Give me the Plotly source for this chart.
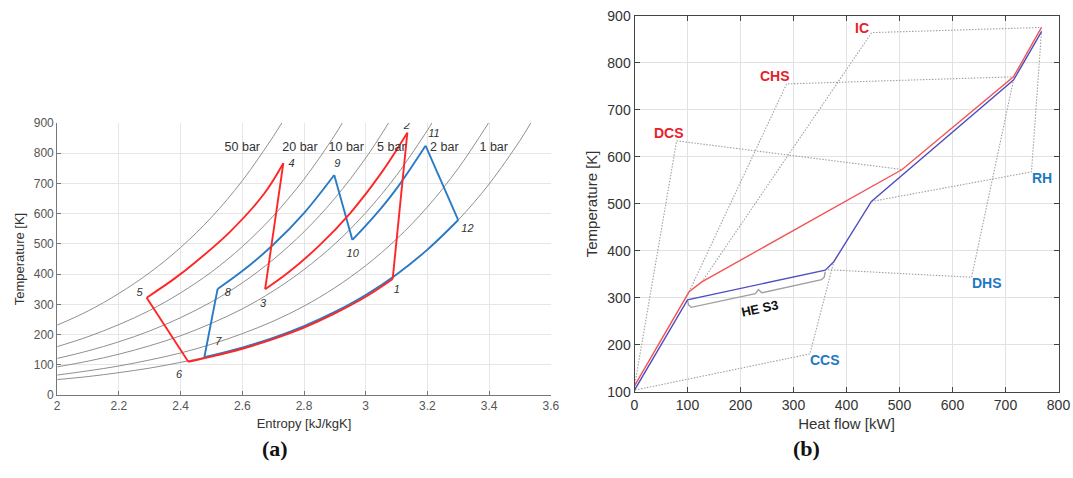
import plotly.graph_objects as go

# ---------------- (a) T-s diagram data ----------------
iso_labels = ["50 bar", "20 bar", "10 bar", "5 bar", "2 bar", "1 bar"]
iso_label_s = [2.60, 2.787, 2.937, 3.083, 3.255, 3.415]
iso_label_T = [818, 818, 818, 818, 818, 818]

iso50_s = [2.0, 2.1, 2.2, 2.3, 2.4, 2.5, 2.6, 2.7, 2.728]
iso50_T = [231, 278, 336, 405, 488, 588, 709, 855, 900]
iso20_s = [2.0, 2.1, 2.2, 2.3, 2.4, 2.5, 2.6, 2.7, 2.8, 2.9, 2.924]
iso20_T = [160, 193, 233, 280, 338, 407, 491, 592, 714, 860, 900]
iso10_s = [2.0, 2.1, 2.2, 2.3, 2.4, 2.5, 2.6, 2.7, 2.8, 2.9, 3.0, 3.074]
iso10_T = [121, 146, 176, 212, 256, 308, 371, 448, 540, 651, 784, 900]
iso5_s = [2.0, 2.1, 2.2, 2.3, 2.4, 2.5, 2.6, 2.7, 2.8, 2.9, 3.0, 3.1, 3.2, 3.2145]
iso5_T = [93, 112, 135, 163, 196, 237, 285, 344, 415, 500, 603, 727, 876, 900]
iso2_s = [2.0, 2.1, 2.2, 2.3, 2.4, 2.5, 2.6, 2.7, 2.8, 2.9, 3.0, 3.1, 3.2, 3.3, 3.398]
iso2_T = [66, 80, 96, 116, 139, 168, 203, 244, 294, 355, 428, 516, 622, 750, 900]
iso1_s = [2.0, 2.1, 2.2, 2.3, 2.4, 2.5, 2.6, 2.7, 2.8, 2.9, 3.0, 3.1, 3.2, 3.3, 3.4, 3.5, 3.535]
iso1_T = [51, 61, 74, 89, 108, 130, 157, 189, 227, 274, 331, 399, 480, 579, 698, 842, 900]

# red cycle (states 1..6)
red_61_s = [2.425, 2.5, 2.6, 2.7, 2.8, 2.9, 3.0, 3.0875]
red_61_T = [110, 127, 153, 185, 223, 270, 325, 384]
red_12_s = [3.0875, 3.135]
red_12_T = [384, 868]
red_23_s = [3.135, 3.05, 2.95, 2.85, 2.75, 2.674]
red_23_T = [868, 734, 602, 495, 406, 350]
red_34_s = [2.674, 2.733]
red_34_T = [350, 767]
red_45_s = [2.733, 2.67, 2.56, 2.45, 2.38, 2.29]
red_45_T = [767, 665, 540, 441, 385, 322]
red_56_s = [2.29, 2.425]
red_56_T = [322, 110]

# blue cycle (states 7..12)
blue_127_s = [2.477, 2.6, 2.7, 2.8, 2.9, 3.0, 3.1, 3.2, 3.3]
blue_127_T = [125, 157, 189, 228, 275, 331, 399, 481, 579]
blue_78_s = [2.477, 2.520]
blue_78_T = [125, 351]
blue_89_s = [2.520, 2.6, 2.7, 2.8, 2.898]
blue_89_T = [351, 410, 497, 602, 728]
blue_910_s = [2.898, 2.957]
blue_910_T = [728, 513]
blue_1011_s = [2.957, 3.03, 3.10, 3.194]
blue_1011_T = [513, 594, 683, 825]
blue_1112_s = [3.194, 3.3]
blue_1112_T = [825, 579]

state_labels = ["1", "2", "3", "4", "5", "6", "7", "8", "9", "10", "11", "12"]
state_lab_s = [3.101, 3.133, 2.667, 2.760, 2.267, 2.395, 2.522, 2.553, 2.908, 2.958, 3.221, 3.330]
state_lab_T = [348, 890, 300, 765, 336, 66, 175, 336, 765, 466, 863, 548]

# ---------------- (b) heat-flow diagram data ----------------
hot_Q = [0, 103, 127, 505, 715, 768]
hot_T = [113, 313, 334, 573, 770, 875]
cold_Q = [0, 100, 360, 376, 447, 715, 768]
cold_T = [104, 296, 359, 377, 505, 763, 866]

lead_names = ["DCS", "CHS", "IC", "RH", "DHS", "CCS"]
lead_Q = [[0, 79.5, 505], [103, 287, 715], [127, 447.5, 768],
          [447, 749, 768], [365, 636, 715], [1, 331, 376]]
lead_T = [[112, 634, 573], [313, 755, 770], [334, 864, 875],
          [505, 568, 868], [360, 344, 763], [104, 181, 377]]
lab_Q = [66, 265, 429, 768, 666, 359]
lab_T = [651, 772, 873, 554, 332, 168]
lab_col = ["#e8202a", "#e8202a", "#e8202a", "#1f78c1", "#1f78c1", "#1f78c1"]

brace_Q = [100, 102, 107, 228, 234, 240, 353, 358, 360]
brace_T = [295, 285, 280, 309, 318, 311, 339, 344, 356]

W, H = 1073, 478


def fx(px):
    return px / W


def fy(py):
    return 1 - py / H


fig = go.Figure()

RED_A = "#ff2626"
BLUE_A = "#2a7bc6"
GREY = "#8f8f8f"

for s, T in [(iso50_s, iso50_T), (iso20_s, iso20_T), (iso10_s, iso10_T),
             (iso5_s, iso5_T), (iso2_s, iso2_T), (iso1_s, iso1_T)]:
    fig.add_trace(go.Scatter(x=s, y=T, mode="lines", line=dict(color=GREY, width=1, shape="spline"),
                             xaxis="x", yaxis="y", showlegend=False, hoverinfo="skip"))

for s, T, shp in [(blue_127_s, blue_127_T, "spline"), (blue_78_s, blue_78_T, "linear"),
                  (blue_89_s, blue_89_T, "spline"), (blue_910_s, blue_910_T, "linear"),
                  (blue_1011_s, blue_1011_T, "spline"), (blue_1112_s, blue_1112_T, "linear")]:
    fig.add_trace(go.Scatter(x=s, y=T, mode="lines", line=dict(color=BLUE_A, width=1.9, shape=shp),
                             xaxis="x", yaxis="y", showlegend=False))
for s, T, shp in [(red_61_s, red_61_T, "spline"), (red_12_s, red_12_T, "linear"),
                  (red_23_s, red_23_T, "spline"), (red_34_s, red_34_T, "linear"),
                  (red_45_s, red_45_T, "spline"), (red_56_s, red_56_T, "linear")]:
    fig.add_trace(go.Scatter(x=s, y=T, mode="lines", line=dict(color=RED_A, width=1.9, shape=shp),
                             xaxis="x", yaxis="y", showlegend=False))

fig.add_trace(go.Scatter(x=iso_label_s, y=iso_label_T, mode="text", text=iso_labels,
                         textfont=dict(family="Liberation Sans, Arial", size=12.5, color="#333"),
                         xaxis="x", yaxis="y", showlegend=False, hoverinfo="skip"))
fig.add_trace(go.Scatter(x=state_lab_s, y=state_lab_T, mode="text",
                         text=["<i>%s</i>" % t for t in state_labels],
                         textfont=dict(family="Liberation Sans, Arial", size=11, color="#333"),
                         xaxis="x", yaxis="y", showlegend=False, hoverinfo="skip"))

# (b)
for q, t in zip(lead_Q, lead_T):
    fig.add_trace(go.Scatter(x=q, y=t, mode="lines", line=dict(color="#a0a0a0", width=1.1, dash="1.5px,1.5px"),
                             xaxis="x2", yaxis="y2", showlegend=False, hoverinfo="skip"))
fig.add_trace(go.Scatter(x=brace_Q, y=brace_T, mode="lines", line=dict(color="#a0a0a0", width=1.4),
                         xaxis="x2", yaxis="y2", showlegend=False, hoverinfo="skip"))
fig.add_trace(go.Scatter(x=hot_Q, y=hot_T, mode="lines", line=dict(color="#f25555", width=1.4),
                         xaxis="x2", yaxis="y2", showlegend=False))
fig.add_trace(go.Scatter(x=cold_Q, y=cold_T, mode="lines", line=dict(color="#4f4fbf", width=1.4),
                         xaxis="x2", yaxis="y2", showlegend=False))
for n, q, t, c in zip(lead_names, lab_Q, lab_T, lab_col):
    fig.add_annotation(x=q, y=t, xref="x2", yref="y2", text="<b>%s</b>" % n, showarrow=False,
                       font=dict(family="Liberation Sans, Arial", size=14, color=c))
fig.add_annotation(x=237, y=278, xref="x2", yref="y2", text="<b>HE S3</b>", showarrow=False,
                   textangle=-12, font=dict(family="Liberation Sans, Arial", size=13, color="#111"))

fig.add_annotation(x=fx(260), y=fy(463), xref="paper", yref="paper", text="<b>(a)</b>",
                   showarrow=False, font=dict(family="Liberation Serif, Times New Roman", size=22, color="#111"))
fig.add_annotation(x=fx(822), y=fy(463), xref="paper", yref="paper", text="<b>(b)</b>",
                   showarrow=False, font=dict(family="Liberation Serif, Times New Roman", size=22, color="#111"))

axfont_a = dict(family="Liberation Sans, Arial", size=12, color="#555")
axfont_b = dict(family="Liberation Sans, Arial", size=14, color="#333")

fig.update_layout(
    width=W, height=H, margin=dict(l=0, r=0, t=0, b=0, autoexpand=False),
    plot_bgcolor="white", paper_bgcolor="white", showlegend=False,
    xaxis=dict(domain=[fx(57.2), fx(550.8)], anchor="y", range=[2, 3.6], dtick=0.2, tick0=2,
               automargin=False, ticklabeloverflow="allow",
               showgrid=True, gridcolor="#e6e6e6", zeroline=False, showline=True, linecolor="#777",
               ticks="inside", ticklen=4, tickcolor="#777", tickfont=axfont_a,
               title=dict(text="Entropy [kJ/kgK]", font=dict(family="Liberation Sans, Arial", size=13, color="#333"), standoff=6)),
    yaxis=dict(domain=[fy(395), fy(123)], anchor="x", range=[0, 900], dtick=100,
               automargin=False, ticklabeloverflow="allow",
               showgrid=True, gridcolor="#e6e6e6", zeroline=False, showline=True, linecolor="#777",
               ticks="inside", ticklen=4, tickcolor="#777", tickfont=axfont_a,
               title=dict(text="Temperature [K]", font=dict(family="Liberation Sans, Arial", size=13, color="#333"), standoff=6)),
    xaxis2=dict(domain=[fx(634.5), fx(1058.5)], anchor="y2", range=[0, 800], dtick=100,
                automargin=False, ticklabeloverflow="allow",
                showgrid=True, gridcolor="#e2e2e2", zeroline=False, showline=True, linecolor="#444",
                mirror="ticks", ticks="inside", ticklen=5, tickcolor="#444", tickfont=axfont_b,
                title=dict(text="Heat flow [kW]", font=dict(family="Liberation Sans, Arial", size=15, color="#333"), standoff=6)),
    yaxis2=dict(domain=[fy(392), fy(15.7)], anchor="x2", range=[100, 900], dtick=100,
                automargin=False, ticklabeloverflow="allow",
                showgrid=True, gridcolor="#e2e2e2", zeroline=False, showline=True, linecolor="#444",
                mirror="ticks", ticks="inside", ticklen=5, tickcolor="#444", tickfont=axfont_b,
                title=dict(text="Temperature [K]", font=dict(family="Liberation Sans, Arial", size=15, color="#333"), standoff=6)),
)

fig.write_html("out.html", config={"displayModeBar": False},
               post_script="document.body.style.margin='0';document.body.style.overflow='hidden';")
